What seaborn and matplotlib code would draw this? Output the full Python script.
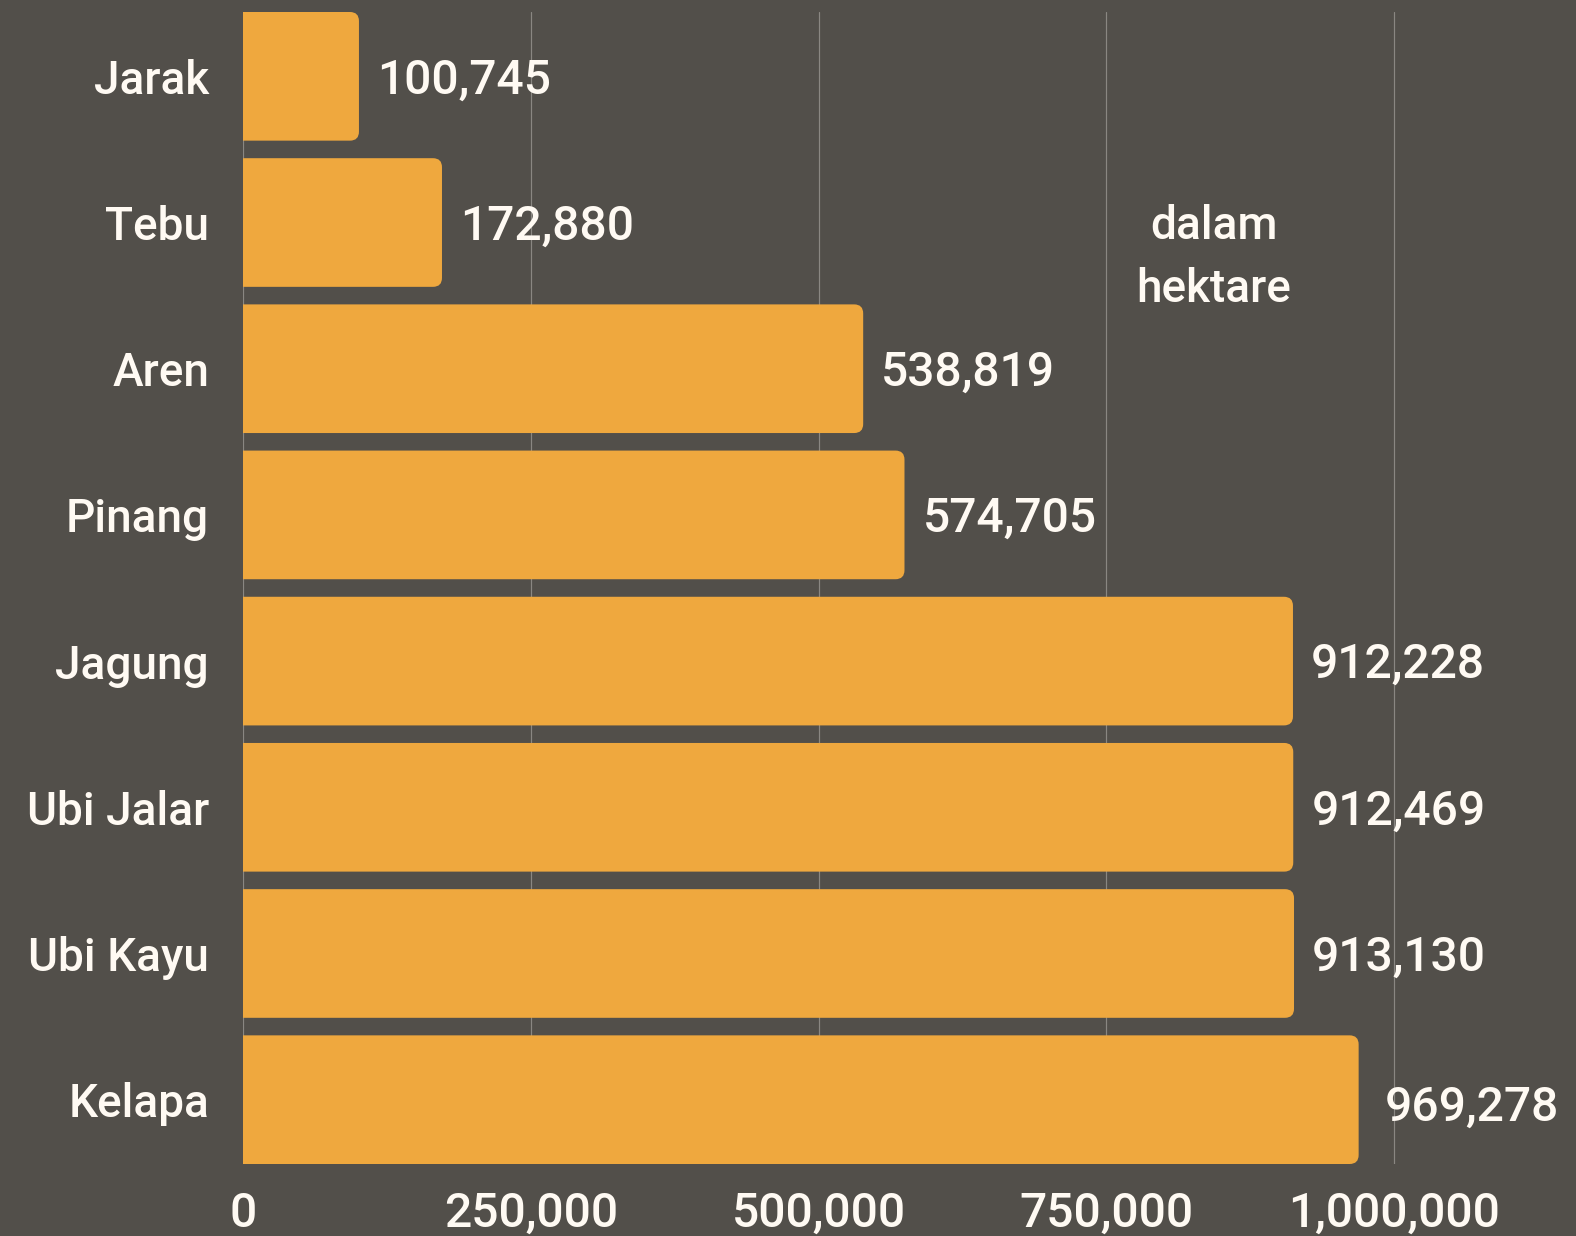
import matplotlib
matplotlib.use("Agg")
import matplotlib.pyplot as plt
import seaborn as sns
import pandas as pd
from matplotlib.patches import FancyBboxPatch
from matplotlib.ticker import FuncFormatter

# Luas lahan per komoditas (hektare)
crops = ["Jarak", "Tebu", "Aren", "Pinang", "Jagung", "Ubi Jalar", "Ubi Kayu", "Kelapa"]
area_ha = [100745, 172880, 538819, 574705, 912228, 912469, 913130, 969278]
x_ticks = [0, 250000, 500000, 750000, 1000000]
unit_note = "dalam\nhektare"

BG = "#524f4a"
BAR = "#efa83e"
TXT = "#fffaf3"
GRID = "#8a8782"
FS = 46
NUM_FS = 48

sns.set_theme(style="dark")
plt.rcParams["font.family"] = ["Roboto", "DejaVu Sans"]

W, H = 1576, 1236
fig = plt.figure(figsize=(W / 72, H / 72), dpi=72, facecolor=BG)
left_px, top_px, bottom_px = 243, 12, 1164
px_per_million = 1151
ax = fig.add_axes([left_px / W, 1 - bottom_px / H, (W - left_px) / W, (bottom_px - top_px) / H])
ax.set_facecolor(BG)

df = pd.DataFrame({"crop": crops, "area": area_ha})
bar_w = 0.88
sns.barplot(data=df, x="area", y="crop", orient="h", color=BAR, width=bar_w,
            saturation=1, ax=ax, zorder=2)

xmax = (W - left_px) / px_per_million * 1e6
ax.set_xlim(0, xmax)
ymin, ymax = -bar_w / 2, len(crops) - 1 + bar_w / 2
ax.set_ylim(ymax, ymin)

# rounded bar ends
x_per_px = 1e6 / px_per_million
y_per_px = (ymax - ymin) / (bottom_px - top_px)
r_px = 9
for p in list(ax.patches):
    x0, y0 = p.get_x(), p.get_y()
    w, h = p.get_width(), p.get_height()
    p.remove()
    extra = 20 * x_per_px
    fb = FancyBboxPatch((x0 - extra, y0), w + extra, h,
                        boxstyle=f"round,pad=0,rounding_size={r_px * x_per_px}",
                        mutation_aspect=y_per_px / x_per_px,
                        fc=BAR, ec="none", zorder=2, clip_on=True)
    ax.add_patch(fb)

ax.set_xticks(x_ticks)
ax.xaxis.set_major_formatter(FuncFormatter(lambda v, _: f"{int(v):,}"))
ax.grid(True, axis="x", color=GRID, lw=1.2, zorder=0)
ax.grid(False, axis="y")
ax.set_axisbelow(True)
for s in ax.spines.values():
    s.set_visible(False)
ax.set_xlabel("")
ax.set_ylabel("")
ax.tick_params(axis="both", length=0, labelsize=FS, labelcolor=TXT)
ax.tick_params(axis="y", pad=34)
ax.tick_params(axis="x", pad=27)
for lab in ax.get_yticklabels():
    lab.set_fontweight("medium")
for lab in ax.get_xticklabels():
    lab.set_fontweight("medium")
    lab.set_fontsize(NUM_FS)

# value labels
offsets = [(18, -4)] * (len(crops) - 1) + [(26, -8)]
for i, (v, off) in enumerate(zip(area_ha, offsets)):
    ax.annotate(f"{v:,}", xy=(v, i), xytext=off, textcoords="offset points",
                ha="left", va="center", fontsize=NUM_FS, color=TXT, fontweight="medium",
                zorder=3, annotation_clip=False)

ax.text(843600, 1.238, unit_note, ha="center", va="center", fontsize=FS,
        color=TXT, fontweight="medium", linespacing=1.54, zorder=3)

fig.savefig("out.png", dpi=72, facecolor=BG)
